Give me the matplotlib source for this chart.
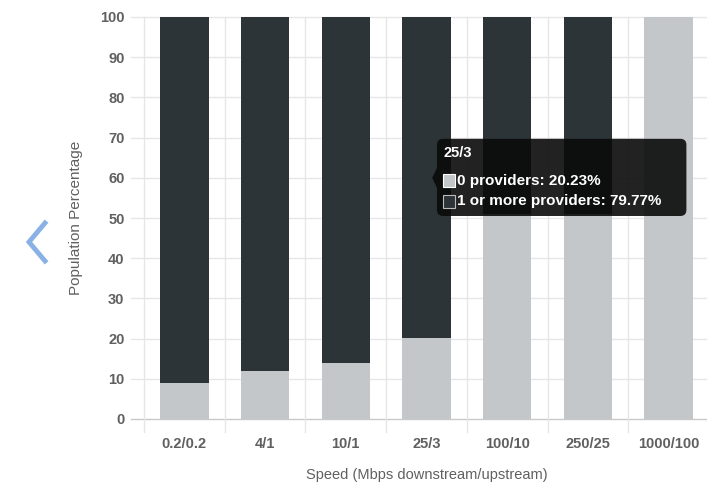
import matplotlib
matplotlib.use('Agg')
from matplotlib import pyplot as plt
from matplotlib.patches import FancyBboxPatch, Rectangle, Polygon
from matplotlib.lines import Line2D

# data
categories = ['0.2/0.2', '4/1', '10/1', '25/3', '100/10', '250/25', '1000/100']
zero_providers = [8.9, 11.9, 13.9, 20.23, 51.0, 51.0, 100.0]
one_or_more = [round(100 - v, 2) for v in zero_providers]
y_ticks = [0, 10, 20, 30, 40, 50, 60, 70, 80, 90, 100]
tip_index = 3

light = '#c4c7ca'
dark = '#2d3437'
grid = '#e6e6e6'
label_col = '#606060'

plt.rcParams['font.family'] = ['Liberation Sans', 'DejaVu Sans']

fig = plt.figure(figsize=(7.07, 4.87), dpi=100)
ax = fig.add_axes([144 / 707, 1 - 419 / 487, 565 / 707, 402 / 487])

x = list(range(len(categories)))
ax.bar(x, zero_providers, width=0.6, color=light, zorder=2)
ax.bar(x, one_or_more, width=0.6, bottom=zero_providers, color=dark, zorder=2)

ax.set_xlim(-0.5, len(categories) - 0.5)
ax.set_ylim(0, 100)
ax.set_yticks(y_ticks)
ax.set_xticks(x)
ax.set_xticklabels(categories)
ax.tick_params(axis='both', length=0, colors=label_col, labelsize=10.5)
ax.tick_params(axis='y', pad=14)
ax.tick_params(axis='x', pad=13)
for t in ax.get_xticklabels() + ax.get_yticklabels():
    t.set_fontweight('bold')

# horizontal grid + short tick stubs left of the axis
for v in y_ticks:
    ax.add_line(Line2D([-0.5 - 13 / 80.7, 6.5], [v, v], color=grid if v else '#c8c8c8',
                       lw=1, zorder=1, clip_on=False))
# vertical category boundaries, extending below the axis
for b in range(len(categories) + 1):
    ax.add_line(Line2D([b - 0.5, b - 0.5], [-13 / 4.02, 100], color=grid, lw=1,
                       zorder=1, clip_on=False))

for s in ax.spines.values():
    s.set_visible(False)

ax.set_ylabel('Population Percentage', color=label_col, fontsize=11, labelpad=12)
ax.set_xlabel('Speed (Mbps downstream/upstream)', color=label_col, fontsize=10.5, labelpad=12)

# tooltip for the hovered bar
tx0, tx1 = tip_index + 0.13, tip_index + 3.22
ty0, ty1 = 50.5, 69.7
box = FancyBboxPatch((tx0, ty0), tx1 - tx0, ty1 - ty0,
                     boxstyle='round,pad=0,rounding_size=0.075', mutation_aspect=80.7 / 4.02,
                     facecolor='#0a0a0a', edgecolor='none', alpha=0.9, zorder=5, clip_on=False)
ax.add_patch(box)
ax.add_patch(Polygon([[tx0, 62.5], [tx0 - 0.06, 60.0], [tx0, 57.5]], closed=True,
                     facecolor='#0a0a0a', alpha=0.9, edgecolor='none', zorder=5))
ax.text(tx0 + 0.08, 66.2, categories[tip_index], color='white', fontsize=10.5,
        fontweight='bold', va='center', zorder=6)
sq_w, sq_h = 12 / 80.7, 13 / 4.02
ax.add_patch(Rectangle((tx0 + 0.08, 57.6), sq_w, sq_h, facecolor=light,
                       edgecolor='white', lw=0.8, zorder=6))
ax.add_patch(Rectangle((tx0 + 0.08, 52.6), sq_w, sq_h, facecolor=dark,
                       edgecolor='#bbbbbb', lw=0.8, zorder=6))
ax.text(tx0 + 0.25, 59.2, '0 providers: %.2f%%' % zero_providers[tip_index],
        color='white', fontsize=11, fontweight='bold', va='center', zorder=6)
ax.text(tx0 + 0.25, 54.2, '1 or more providers: %.2f%%' % one_or_more[tip_index],
        color='white', fontsize=11, fontweight='bold', va='center', zorder=6)

# blue chevron on the left
fig.add_artist(Line2D([45 / 707, 29 / 707, 45 / 707],
                      [1 - 223 / 487, 1 - 242 / 487, 1 - 261 / 487],
                      color='#8ab1e6', lw=3.5, solid_joinstyle='miter'))

fig.savefig('out.png', dpi=100)
